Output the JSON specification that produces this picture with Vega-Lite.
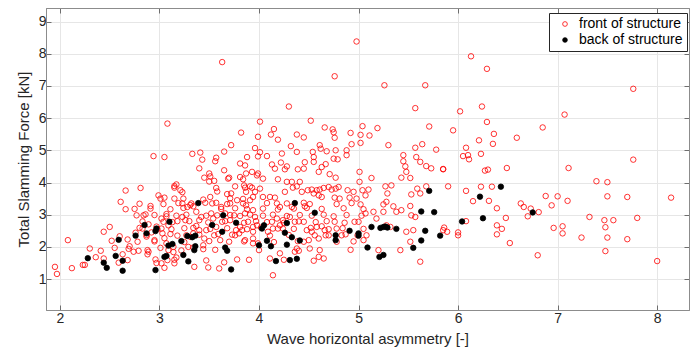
{
"$schema": "https://vega.github.io/schema/vega-lite/v6.json",
"width": 643, "height": 302,
"autosize": {"type": "none"},
"padding": {"left": 46, "top": 8, "right": 10, "bottom": 44},
"background": "white",
"config": {
  "font": "Liberation Sans",
  "view": {"stroke": "#8c8c8c", "strokeWidth": 1},
  "axis": {"labelFont": "Liberation Sans", "titleFont": "Liberation Sans", "labelColor": "#262626", "titleColor": "#262626", "labelFontSize": 14, "titleFontSize": 15, "titleFontWeight": "normal", "domainColor": "#8c8c8c", "tickColor": "#6e6e6e", "gridColor": "#e6e6e6", "gridWidth": 1}
},
"datasets": {"pts": [
{"a":1.95,"f":1.38,"loc":"front of structure"},{"a":1.97,"f":1.16,"loc":"front of structure"},{"a":2.08,"f":2.21,"loc":"front of structure"},{"a":2.12,"f":1.34,"loc":"front of structure"},{"a":2.23,"f":1.44,"loc":"front of structure"},{"a":2.25,"f":1.44,"loc":"front of structure"},{"a":2.30,"f":1.95,"loc":"front of structure"},{"a":2.36,"f":1.68,"loc":"front of structure"},{"a":2.41,"f":1.88,"loc":"front of structure"},{"a":2.44,"f":1.64,"loc":"front of structure"},
{"a":2.44,"f":2.47,"loc":"front of structure"},{"a":2.50,"f":2.62,"loc":"front of structure"},{"a":2.52,"f":2.19,"loc":"front of structure"},{"a":2.55,"f":1.97,"loc":"front of structure"},{"a":2.59,"f":1.51,"loc":"front of structure"},{"a":2.61,"f":3.40,"loc":"front of structure"},{"a":2.60,"f":2.33,"loc":"front of structure"},{"a":2.66,"f":3.75,"loc":"front of structure"},{"a":2.66,"f":3.17,"loc":"front of structure"},{"a":2.68,"f":2.23,"loc":"front of structure"},
{"a":2.63,"f":1.77,"loc":"front of structure"},{"a":2.68,"f":1.59,"loc":"front of structure"},{"a":2.69,"f":1.94,"loc":"front of structure"},{"a":2.70,"f":2.02,"loc":"front of structure"},{"a":2.74,"f":1.85,"loc":"front of structure"},{"a":2.76,"f":2.44,"loc":"front of structure"},{"a":2.78,"f":2.16,"loc":"front of structure"},{"a":2.79,"f":1.88,"loc":"front of structure"},{"a":2.77,"f":2.98,"loc":"front of structure"},{"a":2.80,"f":3.34,"loc":"front of structure"},
{"a":2.81,"f":3.83,"loc":"front of structure"},{"a":2.80,"f":2.59,"loc":"front of structure"},{"a":2.84,"f":2.98,"loc":"front of structure"},{"a":2.86,"f":3.01,"loc":"front of structure"},{"a":2.87,"f":2.32,"loc":"front of structure"},{"a":2.88,"f":1.90,"loc":"front of structure"},{"a":2.89,"f":1.85,"loc":"front of structure"},{"a":2.88,"f":1.77,"loc":"front of structure"},{"a":2.89,"f":2.70,"loc":"front of structure"},{"a":2.91,"f":3.27,"loc":"front of structure"},
{"a":2.91,"f":3.19,"loc":"front of structure"},{"a":2.92,"f":2.45,"loc":"front of structure"},{"a":2.94,"f":4.82,"loc":"front of structure"},{"a":2.95,"f":2.21,"loc":"front of structure"},{"a":2.97,"f":2.63,"loc":"front of structure"},{"a":2.98,"f":2.55,"loc":"front of structure"},{"a":2.96,"f":1.61,"loc":"front of structure"},{"a":2.97,"f":1.50,"loc":"front of structure"},{"a":2.99,"f":3.60,"loc":"front of structure"},{"a":3.01,"f":3.50,"loc":"front of structure"},
{"a":3.02,"f":2.88,"loc":"front of structure"},{"a":3.04,"f":2.78,"loc":"front of structure"},{"a":3.02,"f":2.57,"loc":"front of structure"},{"a":3.03,"f":2.42,"loc":"front of structure"},{"a":3.05,"f":2.27,"loc":"front of structure"},{"a":3.01,"f":1.97,"loc":"front of structure"},{"a":3.02,"f":1.49,"loc":"front of structure"},{"a":3.05,"f":1.35,"loc":"front of structure"},{"a":3.05,"f":4.79,"loc":"front of structure"},{"a":3.05,"f":3.53,"loc":"front of structure"},
{"a":3.07,"f":3.02,"loc":"front of structure"},{"a":3.09,"f":2.67,"loc":"front of structure"},{"a":3.07,"f":2.11,"loc":"front of structure"},{"a":3.09,"f":1.90,"loc":"front of structure"},{"a":3.08,"f":1.59,"loc":"front of structure"},{"a":3.11,"f":2.40,"loc":"front of structure"},{"a":3.14,"f":2.00,"loc":"front of structure"},{"a":3.14,"f":1.84,"loc":"front of structure"},{"a":3.17,"f":1.67,"loc":"front of structure"},{"a":3.15,"f":1.49,"loc":"front of structure"},
{"a":3.15,"f":3.89,"loc":"front of structure"},{"a":3.17,"f":3.94,"loc":"front of structure"},{"a":3.15,"f":3.50,"loc":"front of structure"},{"a":3.18,"f":2.80,"loc":"front of structure"},{"a":3.21,"f":3.76,"loc":"front of structure"},{"a":3.23,"f":3.70,"loc":"front of structure"},{"a":3.24,"f":3.50,"loc":"front of structure"},{"a":3.23,"f":3.35,"loc":"front of structure"},{"a":3.23,"f":2.93,"loc":"front of structure"},{"a":3.26,"f":2.83,"loc":"front of structure"},
{"a":3.25,"f":2.58,"loc":"front of structure"},{"a":3.27,"f":2.36,"loc":"front of structure"},{"a":3.28,"f":3.24,"loc":"front of structure"},{"a":3.32,"f":3.35,"loc":"front of structure"},{"a":3.34,"f":3.26,"loc":"front of structure"},{"a":3.29,"f":2.00,"loc":"front of structure"},{"a":3.34,"f":1.98,"loc":"front of structure"},{"a":3.35,"f":1.38,"loc":"front of structure"},{"a":3.31,"f":2.31,"loc":"front of structure"},{"a":3.34,"f":2.42,"loc":"front of structure"},
{"a":3.37,"f":3.09,"loc":"front of structure"},{"a":3.40,"f":2.83,"loc":"front of structure"},{"a":3.42,"f":2.93,"loc":"front of structure"},{"a":3.37,"f":2.65,"loc":"front of structure"},{"a":3.40,"f":2.52,"loc":"front of structure"},{"a":3.44,"f":2.05,"loc":"front of structure"},{"a":3.45,"f":2.26,"loc":"front of structure"},{"a":3.47,"f":2.52,"loc":"front of structure"},{"a":3.44,"f":1.93,"loc":"front of structure"},{"a":3.44,"f":3.47,"loc":"front of structure"},
{"a":3.46,"f":3.37,"loc":"front of structure"},{"a":3.49,"f":1.36,"loc":"front of structure"},{"a":3.50,"f":4.28,"loc":"front of structure"},{"a":3.51,"f":4.19,"loc":"front of structure"},{"a":3.50,"f":4.03,"loc":"front of structure"},{"a":3.51,"f":3.55,"loc":"front of structure"},{"a":3.53,"f":3.35,"loc":"front of structure"},{"a":3.52,"f":3.04,"loc":"front of structure"},{"a":3.54,"f":2.88,"loc":"front of structure"},{"a":3.57,"f":2.62,"loc":"front of structure"},
{"a":3.59,"f":2.40,"loc":"front of structure"},{"a":3.61,"f":2.21,"loc":"front of structure"},{"a":3.57,"f":3.83,"loc":"front of structure"},{"a":3.58,"f":2.98,"loc":"front of structure"},{"a":3.62,"f":3.24,"loc":"front of structure"},{"a":3.63,"f":2.78,"loc":"front of structure"},{"a":3.66,"f":3.04,"loc":"front of structure"},{"a":3.65,"f":1.52,"loc":"front of structure"},{"a":3.69,"f":4.12,"loc":"front of structure"},{"a":3.71,"f":3.35,"loc":"front of structure"},
{"a":3.72,"f":3.66,"loc":"front of structure"},{"a":3.71,"f":2.83,"loc":"front of structure"},{"a":3.75,"f":2.98,"loc":"front of structure"},{"a":3.76,"f":2.36,"loc":"front of structure"},{"a":3.77,"f":2.52,"loc":"front of structure"},{"a":3.81,"f":2.62,"loc":"front of structure"},{"a":3.80,"f":2.42,"loc":"front of structure"},{"a":3.81,"f":4.59,"loc":"front of structure"},{"a":3.86,"f":4.53,"loc":"front of structure"},{"a":3.87,"f":4.28,"loc":"front of structure"},
{"a":3.85,"f":3.91,"loc":"front of structure"},{"a":3.84,"f":3.35,"loc":"front of structure"},{"a":3.87,"f":3.29,"loc":"front of structure"},{"a":3.91,"f":3.88,"loc":"front of structure"},{"a":3.91,"f":3.45,"loc":"front of structure"},{"a":3.94,"f":3.55,"loc":"front of structure"},{"a":3.94,"f":3.14,"loc":"front of structure"},{"a":3.96,"f":2.93,"loc":"front of structure"},{"a":3.98,"f":2.67,"loc":"front of structure"},{"a":3.94,"f":2.47,"loc":"front of structure"},
{"a":3.94,"f":2.26,"loc":"front of structure"},{"a":3.99,"f":2.11,"loc":"front of structure"},{"a":3.88,"f":4.79,"loc":"front of structure"},{"a":3.99,"f":4.28,"loc":"front of structure"},{"a":3.63,"f":7.74,"loc":"front of structure"},{"a":3.08,"f":5.83,"loc":"front of structure"},{"a":3.33,"f":4.89,"loc":"front of structure"},{"a":3.41,"f":4.93,"loc":"front of structure"},{"a":3.43,"f":4.71,"loc":"front of structure"},{"a":3.57,"f":4.77,"loc":"front of structure"},
{"a":3.65,"f":4.96,"loc":"front of structure"},{"a":3.72,"f":5.16,"loc":"front of structure"},{"a":3.82,"f":5.55,"loc":"front of structure"},{"a":3.96,"f":5.07,"loc":"front of structure"},{"a":3.99,"f":5.42,"loc":"front of structure"},{"a":4.01,"f":5.89,"loc":"front of structure"},{"a":3.40,"f":4.44,"loc":"front of structure"},{"a":3.56,"f":4.66,"loc":"front of structure"},{"a":3.45,"f":4.15,"loc":"front of structure"},{"a":3.55,"f":4.05,"loc":"front of structure"},
{"a":3.65,"f":4.38,"loc":"front of structure"},{"a":3.70,"f":4.15,"loc":"front of structure"},{"a":3.15,"f":3.84,"loc":"front of structure"},{"a":3.58,"f":3.72,"loc":"front of structure"},{"a":3.68,"f":3.64,"loc":"front of structure"},{"a":3.71,"f":3.51,"loc":"front of structure"},{"a":3.76,"f":3.88,"loc":"front of structure"},{"a":3.81,"f":4.17,"loc":"front of structure"},{"a":3.84,"f":4.10,"loc":"front of structure"},{"a":3.86,"f":3.84,"loc":"front of structure"},
{"a":3.87,"f":3.71,"loc":"front of structure"},{"a":3.78,"f":3.45,"loc":"front of structure"},{"a":3.84,"f":3.49,"loc":"front of structure"},
{"a":4.98,"f":8.38,"loc":"front of structure"},{"a":4.76,"f":7.30,"loc":"front of structure"},{"a":5.26,"f":7.02,"loc":"front of structure"},{"a":5.67,"f":7.02,"loc":"front of structure"},{"a":4.30,"f":6.36,"loc":"front of structure"},{"a":5.57,"f":6.31,"loc":"front of structure"},{"a":6.02,"f":6.21,"loc":"front of structure"},{"a":4.52,"f":5.92,"loc":"front of structure"},{"a":4.15,"f":5.66,"loc":"front of structure"},{"a":4.12,"f":5.49,"loc":"front of structure"},
{"a":4.01,"f":4.94,"loc":"front of structure"},{"a":3.99,"f":4.81,"loc":"front of structure"},{"a":4.08,"f":4.82,"loc":"front of structure"},{"a":4.19,"f":5.33,"loc":"front of structure"},{"a":4.38,"f":5.49,"loc":"front of structure"},{"a":4.45,"f":5.40,"loc":"front of structure"},{"a":4.32,"f":5.13,"loc":"front of structure"},{"a":4.38,"f":4.95,"loc":"front of structure"},{"a":4.23,"f":4.90,"loc":"front of structure"},{"a":4.66,"f":5.71,"loc":"front of structure"},
{"a":4.74,"f":5.65,"loc":"front of structure"},{"a":4.75,"f":5.56,"loc":"front of structure"},{"a":4.76,"f":5.39,"loc":"front of structure"},{"a":4.61,"f":5.16,"loc":"front of structure"},{"a":4.62,"f":5.05,"loc":"front of structure"},{"a":4.54,"f":4.95,"loc":"front of structure"},{"a":4.55,"f":4.79,"loc":"front of structure"},{"a":4.68,"f":4.97,"loc":"front of structure"},{"a":4.77,"f":5.00,"loc":"front of structure"},{"a":4.75,"f":4.74,"loc":"front of structure"},
{"a":4.79,"f":4.72,"loc":"front of structure"},{"a":4.88,"f":5.00,"loc":"front of structure"},{"a":4.88,"f":4.85,"loc":"front of structure"},{"a":4.93,"f":5.19,"loc":"front of structure"},{"a":4.92,"f":5.54,"loc":"front of structure"},{"a":5.02,"f":5.48,"loc":"front of structure"},{"a":5.02,"f":5.23,"loc":"front of structure"},{"a":5.04,"f":5.75,"loc":"front of structure"},{"a":5.11,"f":5.46,"loc":"front of structure"},{"a":5.19,"f":5.69,"loc":"front of structure"},
{"a":5.30,"f":5.16,"loc":"front of structure"},{"a":5.45,"f":4.85,"loc":"front of structure"},{"a":5.57,"f":5.08,"loc":"front of structure"},{"a":5.58,"f":4.79,"loc":"front of structure"},{"a":5.64,"f":5.19,"loc":"front of structure"},{"a":5.71,"f":5.74,"loc":"front of structure"},{"a":5.78,"f":5.02,"loc":"front of structure"},{"a":5.95,"f":5.62,"loc":"front of structure"},
{"a":4.13,"f":4.56,"loc":"front of structure"},{"a":4.22,"f":4.62,"loc":"front of structure"},{"a":4.26,"f":4.41,"loc":"front of structure"},{"a":4.28,"f":4.50,"loc":"front of structure"},{"a":4.39,"f":4.41,"loc":"front of structure"},{"a":4.45,"f":4.43,"loc":"front of structure"},{"a":4.46,"f":4.63,"loc":"front of structure"},{"a":4.55,"f":4.64,"loc":"front of structure"},{"a":4.63,"f":4.48,"loc":"front of structure"},{"a":4.60,"f":4.33,"loc":"front of structure"},
{"a":4.71,"f":4.26,"loc":"front of structure"},{"a":4.77,"f":4.15,"loc":"front of structure"},{"a":4.67,"f":4.57,"loc":"front of structure"},{"a":3.93,"f":4.33,"loc":"front of structure"},{"a":3.98,"f":4.22,"loc":"front of structure"},{"a":4.04,"f":4.12,"loc":"front of structure"},{"a":4.19,"f":4.10,"loc":"front of structure"},{"a":4.16,"f":4.43,"loc":"front of structure"},
{"a":3.93,"f":3.84,"loc":"front of structure"},{"a":3.96,"f":3.71,"loc":"front of structure"},{"a":4.01,"f":3.81,"loc":"front of structure"},{"a":4.04,"f":3.55,"loc":"front of structure"},{"a":4.11,"f":3.55,"loc":"front of structure"},{"a":4.16,"f":3.53,"loc":"front of structure"},{"a":4.18,"f":3.35,"loc":"front of structure"},{"a":4.26,"f":3.71,"loc":"front of structure"},{"a":4.28,"f":4.02,"loc":"front of structure"},{"a":4.33,"f":4.02,"loc":"front of structure"},
{"a":4.34,"f":3.84,"loc":"front of structure"},{"a":4.38,"f":3.88,"loc":"front of structure"},{"a":4.41,"f":4.02,"loc":"front of structure"},{"a":4.43,"f":3.71,"loc":"front of structure"},{"a":4.49,"f":3.76,"loc":"front of structure"},{"a":4.53,"f":3.78,"loc":"front of structure"},{"a":4.55,"f":3.66,"loc":"front of structure"},{"a":4.58,"f":3.76,"loc":"front of structure"},{"a":4.61,"f":3.78,"loc":"front of structure"},{"a":4.60,"f":3.60,"loc":"front of structure"},
{"a":4.63,"f":3.55,"loc":"front of structure"},{"a":4.65,"f":3.83,"loc":"front of structure"},{"a":4.70,"f":3.86,"loc":"front of structure"},{"a":4.73,"f":3.78,"loc":"front of structure"},{"a":4.77,"f":3.81,"loc":"front of structure"},{"a":4.80,"f":3.86,"loc":"front of structure"},{"a":4.81,"f":3.50,"loc":"front of structure"},{"a":4.76,"f":3.53,"loc":"front of structure"},{"a":4.89,"f":3.76,"loc":"front of structure"},{"a":4.91,"f":3.53,"loc":"front of structure"},
{"a":4.95,"f":3.71,"loc":"front of structure"},{"a":4.98,"f":3.50,"loc":"front of structure"},{"a":5.04,"f":3.76,"loc":"front of structure"},{"a":5.07,"f":3.60,"loc":"front of structure"},{"a":5.10,"f":3.78,"loc":"front of structure"},{"a":4.04,"f":3.19,"loc":"front of structure"},{"a":4.21,"f":3.24,"loc":"front of structure"},{"a":4.33,"f":3.24,"loc":"front of structure"},{"a":4.46,"f":3.26,"loc":"front of structure"},{"a":4.51,"f":3.33,"loc":"front of structure"},
{"a":5.45,"f":4.66,"loc":"front of structure"},{"a":5.47,"f":4.50,"loc":"front of structure"},{"a":5.48,"f":4.33,"loc":"front of structure"},{"a":5.43,"f":4.15,"loc":"front of structure"},{"a":5.52,"f":4.14,"loc":"front of structure"},{"a":5.62,"f":4.64,"loc":"front of structure"},{"a":5.68,"f":4.51,"loc":"front of structure"},{"a":5.73,"f":4.44,"loc":"front of structure"},{"a":5.85,"f":4.41,"loc":"front of structure"},{"a":5.90,"f":3.88,"loc":"front of structure"},
{"a":5.13,"f":4.14,"loc":"front of structure"},{"a":5.01,"f":4.33,"loc":"front of structure"},{"a":5.01,"f":4.02,"loc":"front of structure"},{"a":5.27,"f":3.88,"loc":"front of structure"},{"a":5.33,"f":3.91,"loc":"front of structure"},{"a":5.29,"f":3.66,"loc":"front of structure"},{"a":5.28,"f":3.40,"loc":"front of structure"},{"a":5.25,"f":3.32,"loc":"front of structure"},{"a":5.35,"f":3.26,"loc":"front of structure"},{"a":5.43,"f":3.14,"loc":"front of structure"},
{"a":5.52,"f":3.27,"loc":"front of structure"},{"a":5.53,"f":3.63,"loc":"front of structure"},{"a":5.59,"f":3.81,"loc":"front of structure"},{"a":5.62,"f":3.66,"loc":"front of structure"},{"a":5.68,"f":3.88,"loc":"front of structure"},
{"a":3.86,"f":3.04,"loc":"front of structure"},{"a":3.89,"f":2.78,"loc":"front of structure"},{"a":3.94,"f":2.62,"loc":"front of structure"},{"a":3.83,"f":2.52,"loc":"front of structure"},{"a":3.86,"f":2.21,"loc":"front of structure"},{"a":3.94,"f":2.11,"loc":"front of structure"},{"a":4.09,"f":2.47,"loc":"front of structure"},{"a":4.14,"f":2.57,"loc":"front of structure"},{"a":4.13,"f":2.78,"loc":"front of structure"},{"a":4.18,"f":2.88,"loc":"front of structure"},
{"a":4.21,"f":2.67,"loc":"front of structure"},{"a":4.24,"f":2.57,"loc":"front of structure"},{"a":4.24,"f":2.83,"loc":"front of structure"},{"a":4.31,"f":2.93,"loc":"front of structure"},{"a":4.36,"f":2.78,"loc":"front of structure"},{"a":4.45,"f":2.78,"loc":"front of structure"},{"a":4.48,"f":2.52,"loc":"front of structure"},{"a":4.53,"f":2.47,"loc":"front of structure"},{"a":4.50,"f":2.21,"loc":"front of structure"},{"a":4.45,"f":2.16,"loc":"front of structure"},
{"a":4.51,"f":1.95,"loc":"front of structure"},{"a":4.38,"f":1.95,"loc":"front of structure"},{"a":4.36,"f":1.85,"loc":"front of structure"},{"a":4.21,"f":1.80,"loc":"front of structure"},{"a":4.11,"f":1.64,"loc":"front of structure"},{"a":4.14,"f":1.12,"loc":"front of structure"},{"a":4.56,"f":2.36,"loc":"front of structure"},{"a":4.60,"f":2.26,"loc":"front of structure"},{"a":4.58,"f":2.62,"loc":"front of structure"},{"a":4.63,"f":2.64,"loc":"front of structure"},
{"a":4.66,"f":2.52,"loc":"front of structure"},{"a":4.70,"f":2.36,"loc":"front of structure"},{"a":4.61,"f":1.90,"loc":"front of structure"},{"a":4.60,"f":1.69,"loc":"front of structure"},{"a":4.65,"f":1.64,"loc":"front of structure"},{"a":4.76,"f":2.78,"loc":"front of structure"},{"a":4.78,"f":2.57,"loc":"front of structure"},{"a":4.96,"f":2.78,"loc":"front of structure"},{"a":5.05,"f":2.21,"loc":"front of structure"},{"a":5.08,"f":2.36,"loc":"front of structure"},
{"a":5.07,"f":3.04,"loc":"front of structure"},{"a":5.15,"f":3.09,"loc":"front of structure"},{"a":5.18,"f":2.88,"loc":"front of structure"},{"a":5.28,"f":2.67,"loc":"front of structure"},{"a":5.32,"f":2.62,"loc":"front of structure"},{"a":5.42,"f":1.90,"loc":"front of structure"},{"a":5.48,"f":2.47,"loc":"front of structure"},{"a":5.55,"f":2.52,"loc":"front of structure"},{"a":5.52,"f":2.16,"loc":"front of structure"},{"a":5.53,"f":2.98,"loc":"front of structure"},
{"a":5.57,"f":2.93,"loc":"front of structure"},{"a":5.62,"f":1.54,"loc":"front of structure"},{"a":5.38,"f":3.09,"loc":"front of structure"},{"a":5.25,"f":3.09,"loc":"front of structure"},{"a":5.85,"f":2.52,"loc":"front of structure"},{"a":5.89,"f":2.47,"loc":"front of structure"},{"a":6.00,"f":2.36,"loc":"front of structure"},{"a":5.20,"f":1.90,"loc":"front of structure"},{"a":4.83,"f":2.36,"loc":"front of structure"},
{"a":6.13,"f":7.92,"loc":"front of structure"},{"a":6.29,"f":7.53,"loc":"front of structure"},{"a":7.76,"f":6.91,"loc":"front of structure"},{"a":6.24,"f":6.36,"loc":"front of structure"},{"a":7.07,"f":6.11,"loc":"front of structure"},{"a":6.29,"f":5.88,"loc":"front of structure"},{"a":6.85,"f":5.71,"loc":"front of structure"},{"a":6.36,"f":5.51,"loc":"front of structure"},{"a":6.21,"f":5.31,"loc":"front of structure"},{"a":6.35,"f":5.20,"loc":"front of structure"},
{"a":6.59,"f":5.39,"loc":"front of structure"},{"a":6.08,"f":5.08,"loc":"front of structure"},{"a":6.05,"f":4.82,"loc":"front of structure"},{"a":6.10,"f":4.85,"loc":"front of structure"},{"a":6.11,"f":4.72,"loc":"front of structure"},{"a":6.23,"f":4.89,"loc":"front of structure"},{"a":5.85,"f":4.42,"loc":"front of structure"},{"a":6.27,"f":4.37,"loc":"front of structure"},{"a":6.30,"f":4.40,"loc":"front of structure"},{"a":6.49,"f":4.45,"loc":"front of structure"},
{"a":7.11,"f":4.45,"loc":"front of structure"},{"a":7.76,"f":4.71,"loc":"front of structure"},{"a":6.08,"f":3.74,"loc":"front of structure"},{"a":6.23,"f":3.87,"loc":"front of structure"},{"a":6.34,"f":3.87,"loc":"front of structure"},{"a":6.15,"f":3.42,"loc":"front of structure"},{"a":6.31,"f":3.43,"loc":"front of structure"},{"a":6.39,"f":3.20,"loc":"front of structure"},{"a":6.48,"f":2.90,"loc":"front of structure"},{"a":6.63,"f":3.35,"loc":"front of structure"},
{"a":6.66,"f":3.24,"loc":"front of structure"},{"a":6.70,"f":2.95,"loc":"front of structure"},{"a":6.73,"f":3.19,"loc":"front of structure"},{"a":6.81,"f":3.08,"loc":"front of structure"},{"a":6.88,"f":3.58,"loc":"front of structure"},{"a":7.00,"f":3.57,"loc":"front of structure"},{"a":6.94,"f":3.29,"loc":"front of structure"},{"a":7.10,"f":3.43,"loc":"front of structure"},{"a":7.39,"f":4.04,"loc":"front of structure"},{"a":7.50,"f":4.01,"loc":"front of structure"},
{"a":7.50,"f":3.57,"loc":"front of structure"},{"a":7.70,"f":3.55,"loc":"front of structure"},{"a":8.14,"f":3.53,"loc":"front of structure"},{"a":7.32,"f":2.93,"loc":"front of structure"},{"a":7.47,"f":2.83,"loc":"front of structure"},{"a":7.56,"f":2.83,"loc":"front of structure"},{"a":7.80,"f":2.90,"loc":"front of structure"},{"a":7.48,"f":2.61,"loc":"front of structure"},{"a":6.96,"f":2.59,"loc":"front of structure"},{"a":7.05,"f":2.64,"loc":"front of structure"},
{"a":7.05,"f":2.42,"loc":"front of structure"},{"a":7.24,"f":2.29,"loc":"front of structure"},{"a":7.50,"f":2.29,"loc":"front of structure"},{"a":7.70,"f":2.24,"loc":"front of structure"},{"a":7.48,"f":1.87,"loc":"front of structure"},{"a":6.80,"f":1.74,"loc":"front of structure"},{"a":8.00,"f":1.56,"loc":"front of structure"},{"a":6.52,"f":2.12,"loc":"front of structure"},{"a":6.39,"f":2.67,"loc":"front of structure"},{"a":6.44,"f":2.56,"loc":"front of structure"},
{"a":6.39,"f":2.39,"loc":"front of structure"},{"a":6.08,"f":2.80,"loc":"front of structure"},{"a":5.86,"f":2.60,"loc":"front of structure"},{"a":6.00,"f":2.45,"loc":"front of structure"},
{"a":3.04,"f":3.33,"loc":"front of structure"},{"a":3.19,"f":3.36,"loc":"front of structure"},{"a":3.31,"f":3.30,"loc":"front of structure"},{"a":3.57,"f":3.37,"loc":"front of structure"},{"a":3.68,"f":3.33,"loc":"front of structure"},{"a":4.08,"f":3.36,"loc":"front of structure"},{"a":4.28,"f":3.35,"loc":"front of structure"},{"a":4.45,"f":3.37,"loc":"front of structure"},{"a":4.78,"f":3.33,"loc":"front of structure"},{"a":4.93,"f":3.36,"loc":"front of structure"},
{"a":5.02,"f":3.32,"loc":"front of structure"},{"a":2.75,"f":3.18,"loc":"front of structure"},{"a":3.11,"f":3.17,"loc":"front of structure"},{"a":3.24,"f":3.21,"loc":"front of structure"},{"a":3.62,"f":3.18,"loc":"front of structure"},{"a":3.76,"f":3.20,"loc":"front of structure"},{"a":3.88,"f":3.17,"loc":"front of structure"},{"a":4.19,"f":3.16,"loc":"front of structure"},{"a":4.35,"f":3.19,"loc":"front of structure"},{"a":4.48,"f":3.21,"loc":"front of structure"},
{"a":4.63,"f":3.18,"loc":"front of structure"},{"a":4.85,"f":3.20,"loc":"front of structure"},{"a":5.05,"f":3.17,"loc":"front of structure"},{"a":2.95,"f":2.99,"loc":"front of structure"},{"a":3.07,"f":2.95,"loc":"front of structure"},{"a":3.17,"f":2.97,"loc":"front of structure"},{"a":3.27,"f":3.00,"loc":"front of structure"},{"a":3.47,"f":2.97,"loc":"front of structure"},{"a":3.71,"f":2.99,"loc":"front of structure"},{"a":3.81,"f":2.96,"loc":"front of structure"},
{"a":3.91,"f":3.00,"loc":"front of structure"},{"a":4.04,"f":2.97,"loc":"front of structure"},{"a":4.14,"f":3.00,"loc":"front of structure"},{"a":4.28,"f":2.96,"loc":"front of structure"},{"a":4.41,"f":2.99,"loc":"front of structure"},{"a":4.53,"f":2.97,"loc":"front of structure"},{"a":4.65,"f":3.00,"loc":"front of structure"},{"a":4.75,"f":2.95,"loc":"front of structure"},{"a":4.88,"f":2.99,"loc":"front of structure"},{"a":5.03,"f":2.97,"loc":"front of structure"},
{"a":2.83,"f":2.79,"loc":"front of structure"},{"a":3.13,"f":2.77,"loc":"front of structure"},{"a":3.30,"f":2.80,"loc":"front of structure"},{"a":3.49,"f":2.76,"loc":"front of structure"},{"a":3.66,"f":2.80,"loc":"front of structure"},{"a":3.85,"f":2.75,"loc":"front of structure"},{"a":3.97,"f":2.80,"loc":"front of structure"},{"a":4.08,"f":2.77,"loc":"front of structure"},{"a":4.25,"f":2.75,"loc":"front of structure"},{"a":4.40,"f":2.79,"loc":"front of structure"},
{"a":4.57,"f":2.77,"loc":"front of structure"},{"a":4.68,"f":2.80,"loc":"front of structure"},{"a":4.86,"f":2.75,"loc":"front of structure"},{"a":5.00,"f":2.78,"loc":"front of structure"},{"a":2.83,"f":2.57,"loc":"front of structure"},{"a":3.12,"f":2.55,"loc":"front of structure"},{"a":3.34,"f":2.59,"loc":"front of structure"},{"a":3.51,"f":2.56,"loc":"front of structure"},{"a":3.68,"f":2.58,"loc":"front of structure"},{"a":3.88,"f":2.55,"loc":"front of structure"},
{"a":4.02,"f":2.60,"loc":"front of structure"},{"a":4.19,"f":2.57,"loc":"front of structure"},{"a":4.35,"f":2.56,"loc":"front of structure"},{"a":4.52,"f":2.59,"loc":"front of structure"},{"a":4.70,"f":2.55,"loc":"front of structure"},{"a":4.84,"f":2.58,"loc":"front of structure"},{"a":5.05,"f":2.56,"loc":"front of structure"},{"a":2.87,"f":2.37,"loc":"front of structure"},{"a":3.18,"f":2.35,"loc":"front of structure"},{"a":3.40,"f":2.38,"loc":"front of structure"},
{"a":3.55,"f":2.36,"loc":"front of structure"},{"a":3.73,"f":2.38,"loc":"front of structure"},{"a":4.11,"f":2.35,"loc":"front of structure"},{"a":4.30,"f":2.37,"loc":"front of structure"},{"a":4.67,"f":2.36,"loc":"front of structure"},{"a":4.87,"f":2.39,"loc":"front of structure"},{"a":4.99,"f":2.36,"loc":"front of structure"},{"a":2.95,"f":2.17,"loc":"front of structure"},{"a":3.25,"f":2.15,"loc":"front of structure"},{"a":3.50,"f":2.18,"loc":"front of structure"},
{"a":3.70,"f":2.16,"loc":"front of structure"},{"a":3.85,"f":2.17,"loc":"front of structure"},{"a":4.15,"f":2.15,"loc":"front of structure"},{"a":4.39,"f":2.18,"loc":"front of structure"},{"a":4.78,"f":2.16,"loc":"front of structure"},{"a":4.95,"f":2.17,"loc":"front of structure"},{"a":3.22,"f":1.89,"loc":"front of structure"},{"a":3.56,"f":1.91,"loc":"front of structure"},{"a":4.00,"f":1.90,"loc":"front of structure"},{"a":4.40,"f":1.88,"loc":"front of structure"},
{"a":4.92,"f":1.91,"loc":"front of structure"},{"a":3.15,"f":1.60,"loc":"front of structure"},{"a":3.47,"f":1.58,"loc":"front of structure"},{"a":3.78,"f":1.61,"loc":"front of structure"},{"a":4.25,"f":1.60,"loc":"front of structure"},{"a":4.55,"f":1.57,"loc":"front of structure"},{"a":3.60,"f":1.33,"loc":"front of structure"},{"a":3.90,"f":1.60,"loc":"front of structure"},
{"a":2.28,"f":1.65,"loc":"back of structure"},{"a":2.44,"f":1.51,"loc":"back of structure"},{"a":2.47,"f":1.35,"loc":"back of structure"},{"a":2.56,"f":1.72,"loc":"back of structure"},{"a":2.59,"f":2.22,"loc":"back of structure"},{"a":2.63,"f":1.57,"loc":"back of structure"},{"a":2.63,"f":1.26,"loc":"back of structure"},{"a":2.76,"f":2.35,"loc":"back of structure"},{"a":2.85,"f":2.68,"loc":"back of structure"},{"a":2.87,"f":2.42,"loc":"back of structure"},
{"a":2.96,"f":1.28,"loc":"back of structure"},{"a":2.96,"f":2.49,"loc":"back of structure"},{"a":2.97,"f":2.57,"loc":"back of structure"},{"a":3.05,"f":1.69,"loc":"back of structure"},{"a":3.07,"f":1.72,"loc":"back of structure"},{"a":3.10,"f":2.78,"loc":"back of structure"},{"a":3.09,"f":2.04,"loc":"back of structure"},{"a":3.13,"f":2.09,"loc":"back of structure"},{"a":3.22,"f":2.18,"loc":"back of structure"},{"a":3.24,"f":1.75,"loc":"back of structure"},
{"a":3.29,"f":1.55,"loc":"back of structure"},{"a":3.28,"f":2.34,"loc":"back of structure"},{"a":3.33,"f":2.30,"loc":"back of structure"},{"a":3.36,"f":2.35,"loc":"back of structure"},{"a":3.39,"f":3.36,"loc":"back of structure"},{"a":3.36,"f":2.02,"loc":"back of structure"},{"a":3.35,"f":1.90,"loc":"back of structure"},{"a":3.53,"f":2.68,"loc":"back of structure"},{"a":3.64,"f":2.98,"loc":"back of structure"},{"a":3.63,"f":2.47,"loc":"back of structure"},
{"a":3.66,"f":1.98,"loc":"back of structure"},{"a":3.68,"f":1.88,"loc":"back of structure"},{"a":3.72,"f":1.30,"loc":"back of structure"},{"a":3.77,"f":2.75,"loc":"back of structure"},
{"a":4.03,"f":2.57,"loc":"back of structure"},{"a":4.05,"f":2.67,"loc":"back of structure"},{"a":4.00,"f":2.05,"loc":"back of structure"},{"a":4.08,"f":2.19,"loc":"back of structure"},{"a":4.12,"f":2.02,"loc":"back of structure"},{"a":4.17,"f":1.56,"loc":"back of structure"},{"a":4.26,"f":2.44,"loc":"back of structure"},{"a":4.28,"f":2.74,"loc":"back of structure"},{"a":4.28,"f":2.07,"loc":"back of structure"},{"a":4.33,"f":2.30,"loc":"back of structure"},
{"a":4.31,"f":1.59,"loc":"back of structure"},{"a":4.38,"f":1.63,"loc":"back of structure"},{"a":4.36,"f":3.36,"loc":"back of structure"},{"a":4.41,"f":2.20,"loc":"back of structure"},{"a":4.56,"f":3.06,"loc":"back of structure"},{"a":4.77,"f":2.36,"loc":"back of structure"},{"a":4.77,"f":2.21,"loc":"back of structure"},{"a":4.91,"f":2.50,"loc":"back of structure"},{"a":5.00,"f":2.42,"loc":"back of structure"},{"a":5.00,"f":2.35,"loc":"back of structure"},
{"a":5.09,"f":1.98,"loc":"back of structure"},{"a":5.13,"f":2.62,"loc":"back of structure"},{"a":5.21,"f":1.69,"loc":"back of structure"},{"a":5.25,"f":1.75,"loc":"back of structure"},{"a":5.22,"f":2.59,"loc":"back of structure"},{"a":5.25,"f":2.62,"loc":"back of structure"},{"a":5.27,"f":2.63,"loc":"back of structure"},{"a":5.29,"f":2.60,"loc":"back of structure"},{"a":5.38,"f":2.56,"loc":"back of structure"},{"a":5.55,"f":1.97,"loc":"back of structure"},
{"a":5.63,"f":2.20,"loc":"back of structure"},{"a":5.67,"f":2.50,"loc":"back of structure"},{"a":5.63,"f":3.10,"loc":"back of structure"},{"a":5.71,"f":3.74,"loc":"back of structure"},{"a":5.76,"f":3.08,"loc":"back of structure"},{"a":5.82,"f":2.35,"loc":"back of structure"},{"a":6.04,"f":2.79,"loc":"back of structure"},{"a":6.25,"f":2.89,"loc":"back of structure"},{"a":6.22,"f":3.56,"loc":"back of structure"},{"a":6.43,"f":3.87,"loc":"back of structure"},
{"a":6.75,"f":3.07,"loc":"back of structure"}
]},
"data": {"name": "pts"},
"layer": [
  {
    "mark": {"type": "point", "shape": "circle", "filled": true, "size": 30, "strokeWidth": 0.8, "opacity": 1},
    "encoding": {
      "x": {"field": "a", "type": "quantitative", "scale": {"domain": [1.86, 8.32], "nice": false, "zero": false},
            "axis": {"orient": "bottom", "values": [2,3,4,5,6,7,8], "grid": true, "tickSize": -5, "labelPadding": 6, "title": "Wave horizontal asymmetry [-]", "titlePadding": 6}},
      "y": {"field": "f", "type": "quantitative", "scale": {"domain": [0.04, 9.42], "nice": false, "zero": false},
            "axis": {"orient": "left", "values": [1,2,3,4,5,6,7,8,9], "grid": true, "tickSize": -5, "labelPadding": 5, "title": "Total Slamming Force [kN]", "titlePadding": 7}},
      "stroke": {"field": "loc", "type": "nominal", "scale": {"domain": ["front of structure", "back of structure"], "range": ["#ff0000", "#000000"]},
                 "legend": {"title": null, "orient": "none", "legendX": 503, "legendY": 5, "padding": 4, "strokeColor": "#262626", "fillColor": "white", "labelFontSize": 14, "labelFont": "Liberation Sans", "labelColor": "#000000", "symbolSize": 22, "symbolStrokeWidth": 0.8, "symbolOpacity": 1, "rowPadding": 2, "labelOffset": 7, "symbolOffset": 5}},
      "fill": {"field": "loc", "type": "nominal", "scale": {"domain": ["front of structure", "back of structure"], "range": ["rgba(255,255,255,0)", "#000000"]},
                 "legend": {"title": null, "orient": "none", "legendX": 503, "legendY": 5, "padding": 4, "strokeColor": "#262626", "fillColor": "white", "labelFontSize": 14, "labelFont": "Liberation Sans", "labelColor": "#000000", "symbolSize": 22, "symbolStrokeWidth": 0.8, "symbolOpacity": 1, "rowPadding": 2, "labelOffset": 7, "symbolOffset": 5}}
    }
  },
  {
    "transform": [{"filter": "datum.loc == 'back of structure'"}],
    "mark": {"type": "point", "opacity": 0},
    "encoding": {
      "x": {"field": "a", "type": "quantitative", "scale": {"domain": [1.86, 8.32], "nice": false, "zero": false},
            "axis": {"orient": "top", "values": [2,3,4,5,6,7,8], "labels": false, "grid": false, "tickSize": -5, "title": null}},
      "y": {"field": "f", "type": "quantitative", "scale": {"domain": [0.04, 9.42], "nice": false, "zero": false},
            "axis": {"orient": "right", "values": [1,2,3,4,5,6,7,8,9], "labels": false, "grid": false, "tickSize": -5, "title": null}}
    }
  }
],
"resolve": {"axis": {"x": "independent", "y": "independent"}}
}
